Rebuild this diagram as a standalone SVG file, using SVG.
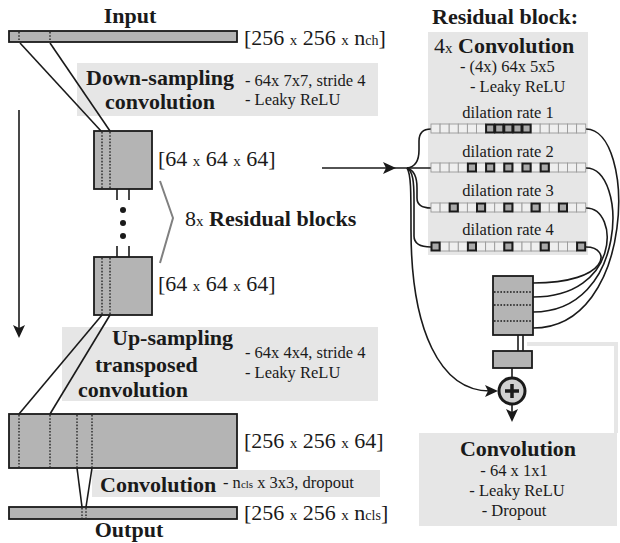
<svg xmlns="http://www.w3.org/2000/svg" width="620" height="543" viewBox="0 0 620 543" font-family="'Liberation Serif', 'DejaVu Serif', serif">
<style>
text, tspan{font-family:'Liberation Serif', 'DejaVu Serif', serif;fill:#1a1a1a}
.h{font-weight:bold;font-size:22px}
.dim{font-size:22px}
.sx{font-size:15px}
.sub{font-size:14px}
.d{font-size:16.5px}
.band{fill:#e6e6e6}
.blk{fill:#b4b4b4;stroke:#1a1a1a;stroke-width:1.8}
.dot{stroke:#1a1a1a;stroke-width:1.3;stroke-dasharray:1.6 1.6;fill:none}
.ln{stroke:#1a1a1a;stroke-width:1.6;fill:none}
.c0{fill:#efefef;stroke:#9a9a9a;stroke-width:0.9}
.c1{fill:#a9a9a9;stroke:#1a1a1a;stroke-width:2}
.ah{fill:#1a1a1a}
</style>
<defs>
<path id="ahR" d="M0,0 L-13,-6 L-10,0 L-13,6 Z"/>
<g id="e"><rect class="c0" x="0" y="0" width="9.1" height="9"/></g>
<g id="f"><rect class="c1" x="0.5" y="0.5" width="8.1" height="8"/></g>
</defs>

<rect class="band" x="77" y="63" width="301" height="53"/>
<rect class="band" x="62" y="327" width="316" height="74"/>
<rect class="band" x="92" y="470" width="288" height="27"/>
<rect class="band" x="428" y="32" width="160" height="223"/>
<rect class="band" x="419" y="433" width="198" height="93"/>
<polyline points="527,344 616,344 616,433" fill="none" stroke="#e6e6e6" stroke-width="4"/>

<g id="connectors">
<line class="ln" x1="20" y1="43" x2="101" y2="131"/>
<line class="ln" x1="50" y1="43" x2="110" y2="131"/>
<line class="ln" x1="19" y1="110" x2="19" y2="330"/>
<use href="#ahR" transform="translate(19,338) rotate(90)" class="ah"/>
<line class="ln" x1="117" y1="189" x2="117" y2="200"/>
<line class="ln" x1="129" y1="189" x2="129" y2="200"/>
<line class="ln" x1="117" y1="246" x2="117" y2="257"/>
<line class="ln" x1="129" y1="246" x2="129" y2="257"/>
<circle cx="123" cy="210" r="3" fill="#1a1a1a"/>
<circle cx="123" cy="223" r="3" fill="#1a1a1a"/>
<circle cx="123" cy="236" r="3" fill="#1a1a1a"/>
<polyline points="160,181 173,218 160,263" fill="none" stroke="#808080" stroke-width="2"/>
<line class="ln" x1="102" y1="315" x2="19" y2="414"/>
<line class="ln" x1="110" y1="315" x2="50" y2="414"/>
<line class="ln" x1="77" y1="468" x2="82" y2="507"/>
<line class="ln" x1="92" y1="468" x2="86" y2="507"/>

<line class="ln" x1="322" y1="168" x2="431" y2="168"/>
<use href="#ahR" transform="translate(396,168)" class="ah"/>
<path class="ln" d="M407,168 C416,167 419,160 419,150 L419,141 C419,133 423,129 431,129"/>
<path class="ln" d="M407,168 C414,170 417,178 417,188 L417,198 C417,205 422,208 431,208"/>
<path class="ln" d="M407,168 C413,171 414,182 414,200 L414,236 C414,243 420,247 431,247"/>
<path class="ln" d="M407,168 C411,174 411,190 411,230 C411,330 440,391 490,391"/>
<use href="#ahR" transform="translate(498,391)" class="ah"/>

<path class="ln" d="M586,129 C636,129 636,328 533,328"/>
<path class="ln" d="M586,168 C628,168 628,312 533,312"/>
<path class="ln" d="M586,208 C620,208 620,297 533,297"/>
<path class="ln" d="M586,247 C612,247 610,283 533,283"/>
<line class="ln" x1="518" y1="335" x2="518" y2="351"/>
<line class="ln" x1="523" y1="335" x2="523" y2="351"/>
<line class="ln" x1="512" y1="368" x2="512" y2="378"/>
<line class="ln" x1="512" y1="405" x2="512" y2="414"/>
<use href="#ahR" transform="translate(512,422) rotate(90)" class="ah"/>
</g>

<g id="input">
<text class="h" x="130" y="23" text-anchor="middle">Input</text>
<rect class="blk" x="9" y="31" width="228" height="11"/>
<line class="dot" x1="19" y1="32" x2="19" y2="41"/>
<line class="dot" x1="50" y1="32" x2="50" y2="41"/>
<text class="dim" x="244" y="45">[256 <tspan class="sx">x</tspan> 256 <tspan class="sx">x</tspan> n<tspan class="sub">ch</tspan>]</text>
</g>

<g id="downsampling">
<text class="h" x="160" y="85" text-anchor="middle">Down-sampling</text>
<text class="h" x="160" y="109" text-anchor="middle">convolution</text>
<text class="d" x="245" y="86">- 64x 7x7, stride 4</text>
<text class="d" x="245" y="105">- Leaky ReLU</text>
</g>

<g id="block1">
<rect class="blk" x="94" y="131" width="58" height="58"/>
<line class="dot" x1="102" y1="132" x2="102" y2="188"/>
<line class="dot" x1="110" y1="132" x2="110" y2="188"/>
<text class="dim" x="158" y="166">[64 <tspan class="sx">x</tspan> 64 <tspan class="sx">x</tspan> 64]</text>
</g>

<g id="residual-label">
<text class="dim" x="185" y="226">8<tspan class="sx">x</tspan> <tspan class="h">Residual blocks</tspan></text>
</g>

<g id="block2">
<rect class="blk" x="94" y="257" width="58" height="58"/>
<line class="dot" x1="102" y1="258" x2="102" y2="314"/>
<line class="dot" x1="110" y1="258" x2="110" y2="314"/>
<text class="dim" x="158" y="291">[64 <tspan class="sx">x</tspan> 64 <tspan class="sx">x</tspan> 64]</text>
</g>

<g id="upsampling">
<text class="h" x="112" y="345">Up-sampling</text>
<text class="h" x="95" y="372">transposed</text>
<text class="h" x="78" y="397">convolution</text>
<text class="d" x="245" y="358">- 64x 4x4, stride 4</text>
<text class="d" x="245" y="378">- Leaky ReLU</text>
</g>

<g id="bigblock">
<rect class="blk" x="9" y="414" width="228" height="54"/>
<line class="dot" x1="19" y1="415" x2="19" y2="467"/>
<line class="dot" x1="50" y1="415" x2="50" y2="467"/>
<line class="dot" x1="77" y1="415" x2="77" y2="467"/>
<line class="dot" x1="92" y1="415" x2="92" y2="467"/>
<text class="dim" x="244" y="448">[256 <tspan class="sx">x</tspan> 256 <tspan class="sx">x</tspan> 64]</text>
</g>

<g id="convolution">
<text class="h" x="100" y="492">Convolution</text>
<text class="d" x="223" y="488">- n<tspan font-size="11">cls</tspan> x 3x3, dropout</text>
</g>

<g id="output">
<rect class="blk" x="9" y="507" width="228" height="12"/>
<line class="dot" x1="82" y1="508" x2="82" y2="518"/>
<line class="dot" x1="86" y1="508" x2="86" y2="518"/>
<text class="dim" x="244" y="520">[256 <tspan class="sx">x</tspan> 256 <tspan class="sx">x</tspan> n<tspan class="sub">cls</tspan>]</text>
<text class="h" x="129" y="537" text-anchor="middle">Output</text>
</g>

<g id="residual-block">
<text class="h" x="432" y="24">Residual block:</text>
<text class="dim" x="434" y="53">4<tspan class="sx">x</tspan> <tspan class="h">Convolution</tspan></text>
<text class="d" x="460" y="72">- (4x) 64x 5x5</text>
<text class="d" x="470" y="92">- Leaky ReLU</text>
<text class="d" x="508" y="118" text-anchor="middle">dilation rate 1</text>
<text class="d" x="508" y="157" text-anchor="middle">dilation rate 2</text>
<text class="d" x="508" y="196" text-anchor="middle">dilation rate 3</text>
<text class="d" x="508" y="235" text-anchor="middle">dilation rate 4</text>
<g id="row1" transform="translate(431,124)">
<use href="#e" x="0"/><use href="#e" x="9.1"/><use href="#e" x="18.2"/><use href="#e" x="27.3"/><use href="#e" x="36.4"/><use href="#e" x="45.5"/>
<use href="#e" x="100.1"/><use href="#e" x="109.2"/><use href="#e" x="118.3"/><use href="#e" x="127.4"/><use href="#e" x="136.5"/><use href="#e" x="145.6"/>
<use href="#f" x="54.6"/><use href="#f" x="63.7"/><use href="#f" x="72.8"/><use href="#f" x="81.9"/><use href="#f" x="91"/>
</g>
<g id="row2" transform="translate(431,163)">
<use href="#e" x="0"/><use href="#e" x="9.1"/><use href="#e" x="18.2"/><use href="#e" x="27.3"/><use href="#e" x="45.5"/><use href="#e" x="63.7"/><use href="#e" x="81.9"/><use href="#e" x="100.1"/><use href="#e" x="118.3"/><use href="#e" x="127.4"/><use href="#e" x="136.5"/><use href="#e" x="145.6"/>
<use href="#f" x="36.4"/><use href="#f" x="54.6"/><use href="#f" x="72.8"/><use href="#f" x="91"/><use href="#f" x="109.2"/>
</g>
<g id="row3" transform="translate(431,203)">
<use href="#e" x="0"/><use href="#e" x="9.1"/><use href="#e" x="27.3"/><use href="#e" x="36.4"/><use href="#e" x="54.6"/><use href="#e" x="63.7"/><use href="#e" x="81.9"/><use href="#e" x="91"/><use href="#e" x="109.2"/><use href="#e" x="118.3"/><use href="#e" x="136.5"/><use href="#e" x="145.6"/>
<use href="#f" x="18.2"/><use href="#f" x="45.5"/><use href="#f" x="72.8"/><use href="#f" x="100.1"/><use href="#f" x="127.4"/>
</g>
<g id="row4" transform="translate(431,242)">
<use href="#e" x="9.1"/><use href="#e" x="18.2"/><use href="#e" x="27.3"/><use href="#e" x="45.5"/><use href="#e" x="54.6"/><use href="#e" x="63.7"/><use href="#e" x="81.9"/><use href="#e" x="91"/><use href="#e" x="100.1"/><use href="#e" x="118.3"/><use href="#e" x="127.4"/><use href="#e" x="136.5"/>
<use href="#f" x="0"/><use href="#f" x="36.4"/><use href="#f" x="72.8"/><use href="#f" x="109.2"/><use href="#f" x="145.6"/>
</g>
</g>

<g id="concat">
<rect class="blk" x="493" y="276" width="40" height="59"/>
<line class="dot" x1="494" y1="292" x2="532" y2="292"/>
<line class="dot" x1="494" y1="305" x2="532" y2="305"/>
<line class="dot" x1="494" y1="321" x2="532" y2="321"/>
</g>

<g id="conv1x1">
<rect class="blk" x="493" y="351" width="39" height="17"/>
</g>

<g id="adder">
<circle cx="512" cy="391" r="13" fill="#d0d0d0" stroke="#1a1a1a" stroke-width="3"/>
<line x1="505" y1="391" x2="519" y2="391" stroke="#1a1a1a" stroke-width="3.5"/>
<line x1="512" y1="384" x2="512" y2="398" stroke="#1a1a1a" stroke-width="3.5"/>
</g>

<g id="conv-detail">
<text class="h" x="518" y="456" text-anchor="middle">Convolution</text>
<text class="d" x="514" y="476" text-anchor="middle">- 64 x 1x1</text>
<text class="d" x="517" y="496" text-anchor="middle">- Leaky ReLU</text>
<text class="d" x="514" y="516" text-anchor="middle">- Dropout</text>
</g>
</svg>
